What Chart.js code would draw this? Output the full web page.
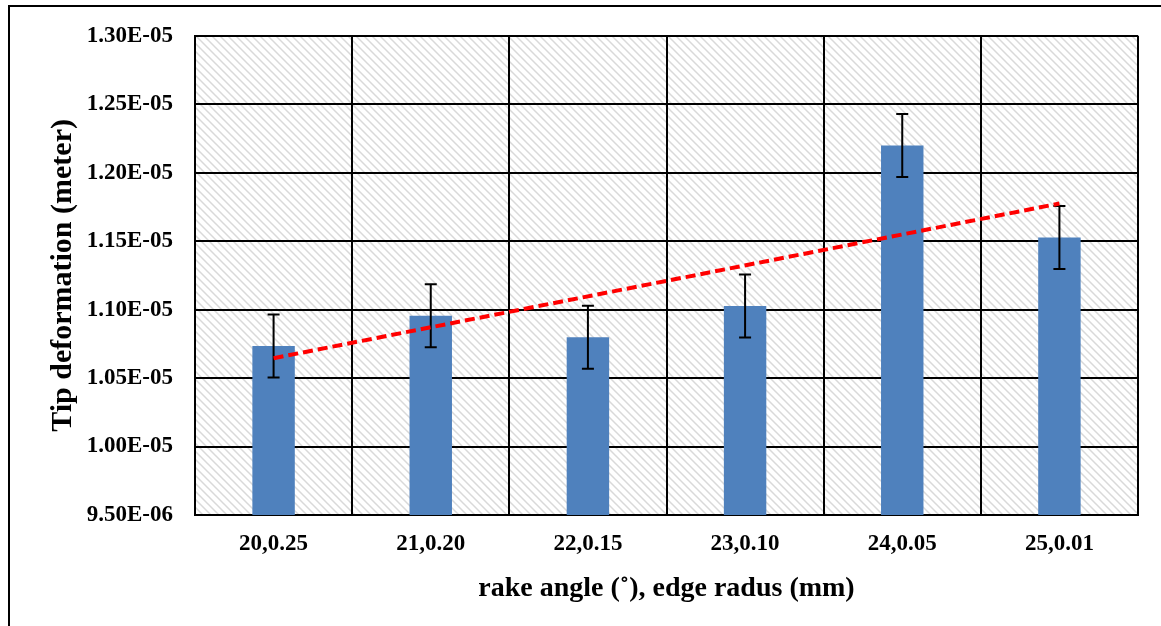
<!DOCTYPE html>
<html>
<head>
<meta charset="utf-8">
<script src="https://cdn.jsdelivr.net/npm/chart.js@4.4.1/dist/chart.umd.min.js"></script>
<style>
    html, body { margin: 0; padding: 0; background: #fff; overflow: hidden; }
    #wrap { position: relative; width: 1161px; height: 626px; }
    #frame { position: absolute; left: 8px; top: 5px; width: 1200px; height: 700px; border: 2px solid #000; }
    #chart { position: absolute; left: 0; top: 0; }
</style>
</head>
<body>
<div id="wrap">
    <div id="frame"></div>
    <canvas id="chart" width="1161" height="626"></canvas>
</div>
<script>
const categories = ['20,0.25', '21,0.20', '22,0.15', '23,0.10', '24,0.05', '25,0.01'];
const deformation = [1.0734e-5, 1.0956e-5, 1.0798e-5, 1.1026e-5, 1.2198e-5, 1.1527e-5];
const errors = [2.3e-7, 2.3e-7, 2.3e-7, 2.3e-7, 2.3e-7, 2.3e-7];
const trend = [1.0645e-5, null, null, null, null, 1.1775e-5];
const yTickValues = [9.5e-6, 1.0e-5, 1.05e-5, 1.1e-5, 1.15e-5, 1.2e-5, 1.25e-5, 1.3e-5];
const yTickLabels = ['9.50E-06', '1.00E-05', '1.05E-05', '1.10E-05', '1.15E-05', '1.20E-05', '1.25E-05', '1.30E-05'];

const serif = "'Liberation Serif', 'Times New Roman', serif";

// light grey downward-diagonal hatch like the excel plot area
function makeHatch() {
    const c = document.createElement('canvas');
    c.width = 8;
    c.height = 8;
    const g = c.getContext('2d');
    g.strokeStyle = 'rgba(170,170,170,0.45)';
    g.lineWidth = 1.5;
    g.beginPath();
    g.moveTo(-2, -2); g.lineTo(10, 10);
    g.moveTo(-2, 6); g.lineTo(2, 10);
    g.moveTo(6, -2); g.lineTo(10, 2);
    g.stroke();
    return g.createPattern(c, 'repeat');
}

const plotBackground = {
    id: 'plotBackground',
    beforeDraw(chart) {
        const { ctx, chartArea: a } = chart;
        ctx.save();
        ctx.fillStyle = makeHatch();
        ctx.fillRect(a.left, a.top, a.right - a.left, a.bottom - a.top);
        ctx.restore();
    }
};

const errorBars = {
    id: 'errorBars',
    afterDatasetDraw(chart, args) {
        if (args.index !== 1) return;
        const { ctx } = chart;
        const y = chart.scales.y;
        ctx.save();
        ctx.strokeStyle = '#000';
        ctx.lineWidth = 2;
        args.meta.data.forEach((bar, i) => {
            const top = y.getPixelForValue(deformation[i] + errors[i]);
            const bot = y.getPixelForValue(deformation[i] - errors[i]);
            ctx.beginPath();
            ctx.moveTo(bar.x, top); ctx.lineTo(bar.x, bot);
            ctx.moveTo(bar.x - 6, top); ctx.lineTo(bar.x + 6, top);
            ctx.moveTo(bar.x - 6, bot); ctx.lineTo(bar.x + 6, bot);
            ctx.stroke();
        });
        ctx.restore();
    }
};

new Chart(document.getElementById('chart'), {
    data: {
        labels: categories,
        datasets: [
            {
                type: 'line',
                data: trend,
                spanGaps: true,
                borderColor: '#ff0000',
                borderWidth: 4,
                borderDash: [10, 5],
                pointRadius: 0,
                order: 0
            },
            {
                type: 'bar',
                data: deformation,
                backgroundColor: '#4f81bd',
                barPercentage: 0.9,
                categoryPercentage: 0.3,
                order: 1
            }
        ]
    },
    options: {
        responsive: false,
        animation: false,
        events: [],
        layout: { padding: { left: 0, top: 35, right: 23, bottom: 0 } },
        plugins: { legend: { display: false }, tooltip: { enabled: false } },
        scales: {
            x: {
                offset: true,
                grid: { color: '#000', lineWidth: 2, drawTicks: false, offset: true },
                border: { color: '#000', width: 2 },
                ticks: { color: '#000', padding: 15, font: { family: serif, size: 23, weight: 'bold' } },
                title: {
                    display: true,
                    text: 'rake angle (˚), edge radus (mm)',
                    color: '#000',
                    padding: { top: 0, bottom: 20 },
                    font: { family: serif, size: 28, weight: 'bold' }
                },
                afterFit(scale) { scale.height = 111; }
            },
            y: {
                min: 9.5e-6,
                max: 1.3e-5,
                grid: { color: '#000', lineWidth: 2, drawTicks: false },
                border: { color: '#000', width: 2 },
                afterBuildTicks(scale) { scale.ticks = yTickValues.map(v => ({ value: v })); },
                ticks: {
                    color: '#000',
                    padding: 22,
                    font: { family: serif, size: 23, weight: 'bold' },
                    callback: (v, i) => yTickLabels[i]
                },
                title: {
                    display: true,
                    text: 'Tip deformation (meter)',
                    color: '#000',
                    padding: { top: 45, bottom: 0 },
                    font: { family: serif, size: 30, weight: 'bold' }
                },
                afterFit(scale) { scale.width = 195; }
            }
        }
    },
    plugins: [plotBackground, errorBars]
});
</script>
</body>
</html>
